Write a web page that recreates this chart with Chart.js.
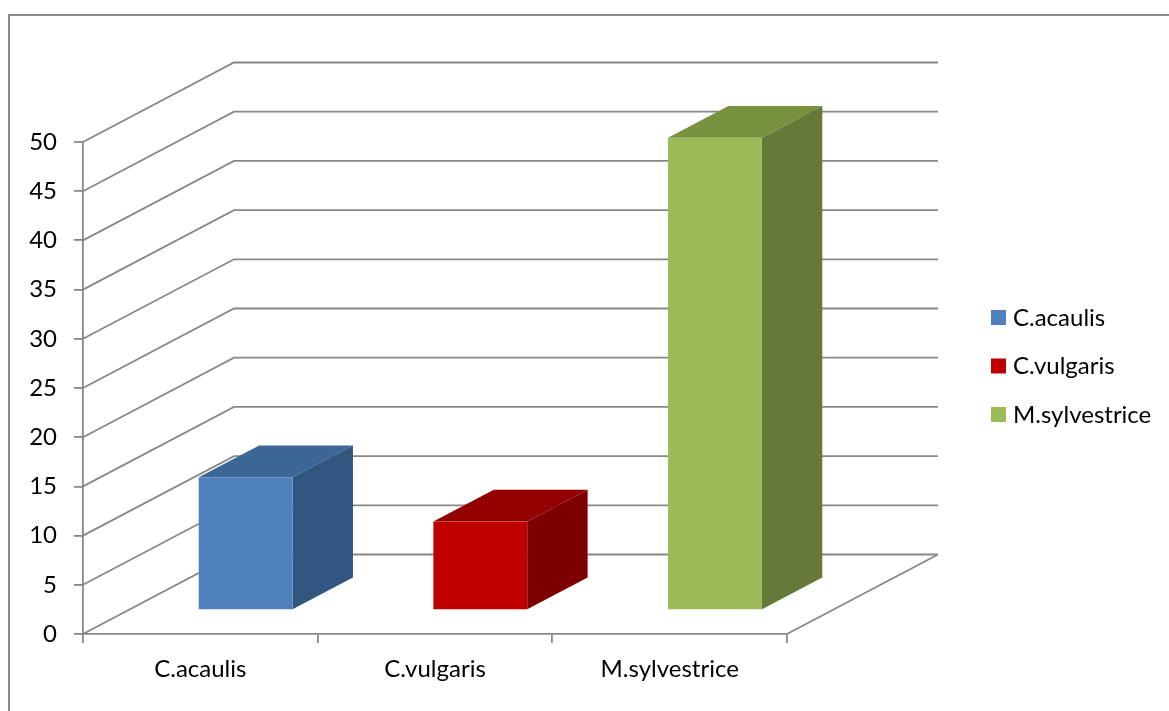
<!DOCTYPE html>
<html>
<head>
<meta charset="utf-8">
<script src="https://cdn.jsdelivr.net/npm/chart.js@4/dist/chart.umd.min.js"></script>
<style>
  html, body { margin: 0; padding: 0; background: #fff; }
  canvas { display: block; }
</style>
</head>
<body>
<canvas id="grafico" width="1169" height="711"></canvas>
<script>
/* DADOS */
const categorias = ['C.acaulis', 'C.vulgaris', 'M.sylvestrice'];
const valores = [13.5, 9, 48];
const ticksY = [0, 5, 10, 15, 20, 25, 30, 35, 40, 45, 50];

/* CORES (frente, topo, lateral) */
const corFrente = ['#4F81BD', '#C00000', '#9BBB59'];
const corTopo = ['#3C6696', '#930000', '#77913F'];
const corLado = ['#335680', '#7D0000', '#667939'];

const FONTE = 'Lato, "Open Sans", sans-serif';
const TAM = 24;
const CINZA = '#888888';

// profundidade da caixa 3D (deslocamento do fundo em relação à frente)
const PROF_X = 151;
const PROF_Y = -79.5;
// a coluna ocupa de 30% a 70% da profundidade
const COL_INI = 0.3;
const COL_FIM = 0.7;

const paredes = {
  id: 'paredes',
  beforeDatasetsDraw(chart) {
    const ctx = chart.ctx;
    const area = chart.chartArea;
    const y = chart.scales.y;
    ctx.save();
    ctx.strokeStyle = CINZA;
    ctx.lineWidth = 1.8;
    ctx.beginPath();
    ticksY.forEach(v => {
      const py = y.getPixelForValue(v);
      ctx.moveTo(area.left, py);
      ctx.lineTo(area.left + PROF_X, py + PROF_Y);
      ctx.lineTo(area.right + PROF_X, py + PROF_Y);
    });
    // borda direita do piso
    ctx.moveTo(area.right, area.bottom);
    ctx.lineTo(area.right + PROF_X, area.bottom + PROF_Y);
    ctx.stroke();
    ctx.restore();
  }
};

const colunas3d = {
  id: 'colunas3d',
  beforeDatasetDraw(chart, args) {
    const ctx = chart.ctx;
    const meta = args.meta;
    const fx = COL_INI * PROF_X, fy = COL_INI * PROF_Y;
    const bx = (COL_FIM - COL_INI) * PROF_X, by = (COL_FIM - COL_INI) * PROF_Y;
    ctx.save();
    meta.data.forEach((bar, i) => {
      const w = bar.width;
      const x0 = bar.x - w / 2 + fx;
      const x1 = x0 + w;
      const yt = bar.y + fy;
      const yb = bar.base + fy;
      // topo
      ctx.fillStyle = corTopo[i];
      ctx.beginPath();
      ctx.moveTo(x0, yt);
      ctx.lineTo(x1, yt);
      ctx.lineTo(x1 + bx, yt + by);
      ctx.lineTo(x0 + bx, yt + by);
      ctx.closePath();
      ctx.fill();
      // lateral
      ctx.fillStyle = corLado[i];
      ctx.beginPath();
      ctx.moveTo(x1, yt);
      ctx.lineTo(x1 + bx, yt + by);
      ctx.lineTo(x1 + bx, yb + by);
      ctx.lineTo(x1, yb);
      ctx.closePath();
      ctx.fill();
      // frente
      ctx.fillStyle = corFrente[i];
      ctx.fillRect(x0, yt, w, yb - yt);
    });
    ctx.restore();
    return false;
  }
};

const moldura = {
  id: 'moldura',
  afterDraw(chart) {
    const ctx = chart.ctx;
    ctx.save();
    // contorno do gráfico
    ctx.strokeStyle = '#8a8a8a';
    ctx.lineWidth = 2;
    ctx.beginPath();
    ctx.moveTo(9, chart.height);
    ctx.lineTo(9, 15);
    ctx.lineTo(chart.width, 15);
    ctx.stroke();
    // legenda
    ctx.font = TAM + 'px ' + FONTE;
    ctx.textBaseline = 'middle';
    categorias.forEach((nome, i) => {
      const cy = 317 + i * 48.5;
      ctx.fillStyle = corFrente[i];
      ctx.fillRect(991, cy - 7, 15, 15);
      ctx.fillStyle = '#000';
      ctx.fillText(nome, 1013, cy + 1);
    });
    ctx.restore();
  }
};

new Chart(document.getElementById('grafico'), {
  type: 'bar',
  data: {
    labels: categorias,
    datasets: [{
      label: 'Valores',
      data: valores,
      backgroundColor: corFrente,
      categoryPercentage: 0.4,
      barPercentage: 1
    }]
  },
  options: {
    responsive: false,
    animation: false,
    layout: { padding: { top: 142, right: 382, bottom: 0, left: 0 } },
    plugins: { legend: { display: false }, tooltip: { enabled: false } },
    scales: {
      x: {
        afterFit: s => { s.height = 77; },
        grid: { drawOnChartArea: false, drawTicks: true, tickLength: 9, color: CINZA, lineWidth: 1.8, offset: true },
        border: { display: true, color: CINZA, width: 1.8 },
        ticks: { color: '#000', font: { family: FONTE, size: TAM }, padding: 12 }
      },
      y: {
        min: 0,
        max: 50,
        afterFit: s => { s.width = 83; },
        afterBuildTicks: s => { s.ticks = ticksY.map(v => ({ value: v })); },
        grid: { drawOnChartArea: false, drawTicks: true, tickLength: 9, color: CINZA, lineWidth: 1.8 },
        border: { display: true, color: CINZA, width: 1.8 },
        ticks: { color: '#000', font: { family: FONTE, size: TAM }, padding: 17 }
      }
    }
  },
  plugins: [paredes, colunas3d, moldura]
});
</script>
</body>
</html>
